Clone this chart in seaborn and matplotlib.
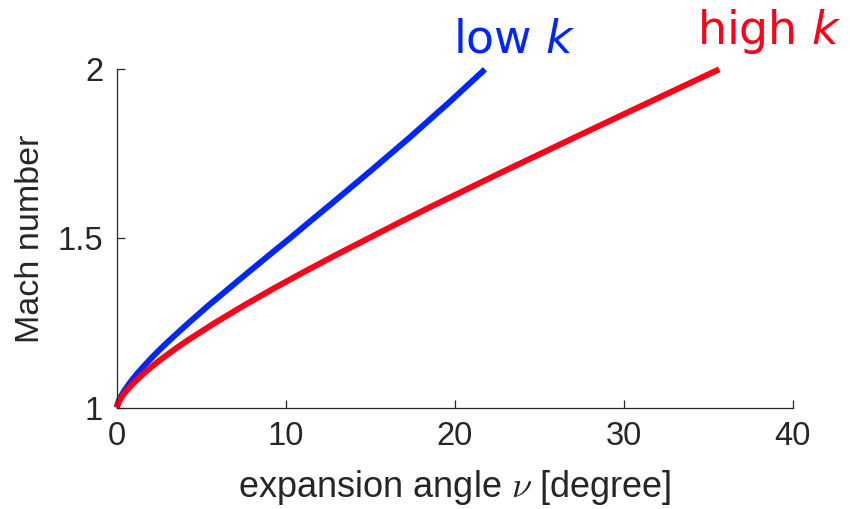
import matplotlib
matplotlib.use("Agg")
import matplotlib.pyplot as plt
import seaborn as sns
import pandas as pd
from matplotlib import font_manager

# Prandtl-Meyer expansion: Mach number vs. expansion angle (degrees)
mach = [1.0, 1.01, 1.02, 1.035, 1.05, 1.075, 1.1, 1.125, 1.15, 1.175, 1.2,
        1.25, 1.3, 1.35, 1.4, 1.45, 1.5, 1.55, 1.6, 1.7, 1.8, 1.9, 2.0]
nu_low_k = [0.0, 0.04, 0.11, 0.26, 0.44, 0.79, 1.19, 1.64, 2.11, 2.61, 3.14,
            4.24, 5.38, 6.58, 7.78, 9.00, 10.23, 11.43, 12.64, 15.03, 17.37,
            19.62, 21.79]
nu_high_k = [0.0, 0.05, 0.15, 0.33, 0.57, 1.03, 1.57, 2.16, 2.81, 3.50, 4.23,
             5.79, 7.46, 9.21, 11.04, 12.93, 14.88, 16.84, 18.85, 22.97, 27.17,
             31.40, 35.66]

series_labels = ["low $k$", "high $k$"]
x_ticks = [0, 10, 20, 30, 40]
x_tick_labels = ["0", "10", "20", "30", "40"]
y_ticks = [1, 1.5, 2]
y_tick_labels = ["1", "1.5", "2"]

sns.set_theme(style="white")
installed = {f.name for f in font_manager.fontManager.ttflist}
sans = "Liberation Sans" if "Liberation Sans" in installed else "DejaVu Sans"
plt.rcParams["font.family"] = [sans, "DejaVu Sans"]

df = pd.concat([
    pd.DataFrame({"nu": nu_low_k, "M": mach, "case": series_labels[0]}),
    pd.DataFrame({"nu": nu_high_k, "M": mach, "case": series_labels[1]}),
])

colors = {series_labels[0]: "#0026FF", series_labels[1]: "#FF0019"}
ink = "#262626"

fig = plt.figure(figsize=(8.5, 5.09), dpi=100)
ax = fig.add_axes([0.1376, 0.1994, 0.7948, 0.6645])

sns.lineplot(data=df, x="nu", y="M", hue="case", palette=colors,
             estimator=None, sort=False, linewidth=4.3, legend=False, ax=ax)
for line in ax.lines:
    line.set_solid_capstyle("butt")
    line.set_solid_joinstyle("round")
    line.set_clip_on(False)

ax.set_xlim(0, 40)
ax.set_ylim(1, 2)
ax.set_xticks(x_ticks)
ax.set_xticklabels(x_tick_labels)
ax.set_yticks(y_ticks)
ax.set_yticklabels(y_tick_labels)

for side in ("top", "right"):
    ax.spines[side].set_visible(False)
for side in ("left", "bottom"):
    ax.spines[side].set_color(ink)
    ax.spines[side].set_linewidth(0.9)

ax.tick_params(axis="both", which="major", direction="in", length=5.5,
               width=0.9, color=ink, labelcolor=ink, labelsize=23.5,
               left=True, bottom=True)
ax.tick_params(axis="x", pad=10)
ax.tick_params(axis="y", pad=10)

ax.set_xlabel(r"expansion angle $\nu$ [degree]", fontsize=26, color=ink,
              labelpad=11, math_fontfamily="cm")
ax.set_ylabel("Mach number", fontsize=24.5, color=ink, labelpad=8)

# Curve labels placed just above the end of each curve
ends = [(nu_low_k[-1], mach[-1], series_labels[0], (-23, 12)),
        (nu_high_k[-1], mach[-1], series_labels[1], (-16, 18))]
for x_end, y_end, label, offset in ends:
    ax.annotate(label, xy=(x_end, y_end), xytext=offset,
                textcoords="offset points", ha="left", va="baseline",
                fontsize=33, color=colors[label], family="DejaVu Sans",
                annotation_clip=False)

fig.savefig("out.png", dpi=100, facecolor="white")
